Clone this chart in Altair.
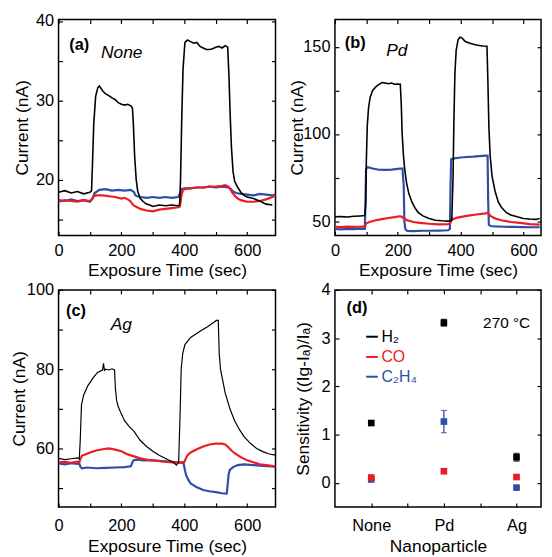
import altair as alt
import pandas as pd

FONT = "Liberation Sans"
COL = {"H2": "#000000", "CO": "#ec1c24", "C2H4": "#2e4ea6"}
WID = {"H2": 1.5, "CO": 2.2, "C2H4": 2.2}

# ---------------- panel (a) : None ----------------
a_h2_t = [0, 20, 40, 60, 80, 100, 105, 108, 112, 118, 125, 130, 140, 150, 160, 170, 180, 190, 200, 210, 220, 230, 235,
          238, 242, 247, 252, 260, 270, 280, 290, 300, 320, 340, 360, 380, 385, 388, 392, 396, 402, 410, 420, 430, 440,
          450, 460, 470, 480, 490, 500, 510, 520, 530, 538, 542, 546, 550, 555, 560, 570, 580, 590, 600, 620, 640, 660, 680]
a_h2_v = [18.4, 18.6, 18.3, 18.5, 18.2, 18.4, 18.6, 22, 27, 30.5, 31.6, 31.8, 31.2, 30.8, 30.6, 30.3, 30.1, 29.7, 29.5,
          29.4, 29.5, 29.3, 29.0, 27, 23, 20, 18.5, 17.6, 17.2, 16.9, 16.8, 16.6, 16.8, 16.7, 16.8, 16.7, 16.8, 20, 28,
          34, 37.3, 37.6, 37.4, 37.2, 37.3, 36.8, 36.6, 36.4, 36.4, 36.5, 36.7, 36.8, 36.6, 36.9, 36.7, 33, 28, 24, 21,
          19.8, 19.0, 18.4, 18.0, 17.8, 17.6, 17.3, 16.9, 16.8]
a_co_t = [0, 20, 40, 60, 80, 100, 108, 112, 120, 140, 160, 180, 200, 210, 220, 228, 235, 240, 250, 260, 280, 300, 320,
          340, 360, 380, 386, 390, 395, 400, 420, 440, 460, 480, 500, 520, 530, 540, 545, 550, 560, 570, 580, 600, 620,
          640, 660, 680, 690]
a_co_v = [17.2, 17.4, 17.3, 17.2, 17.4, 17.3, 17.6, 17.9, 18.0, 18.0, 17.9, 17.8, 17.6, 17.7, 17.5, 17.3, 16.9, 16.7,
          16.5, 16.3, 16.1, 16.0, 16.2, 16.3, 16.4, 16.5, 16.6, 17.8, 18.6, 18.8, 18.9, 19.0, 19.0, 19.1, 19.1, 19.2,
          19.3, 19.1, 18.9, 18.5, 18.0, 17.6, 17.4, 17.2, 17.2, 17.3, 17.5, 17.8, 18.0]
a_c2_t = [0, 20, 40, 60, 80, 100, 108, 115, 130, 150, 170, 190, 210, 230, 240, 245, 250, 260, 280, 300, 320, 340, 360,
          380, 386, 392, 400, 420, 440, 460, 480, 500, 520, 540, 548, 555, 565, 580, 600, 620, 640, 660, 680, 690]
a_c2_v = [17.4, 17.3, 17.5, 17.3, 17.4, 17.2, 17.6, 18.3, 18.7, 18.8, 18.6, 18.7, 18.6, 18.7, 18.4, 18.0, 17.9, 17.8,
          17.7, 17.8, 17.7, 17.8, 17.7, 17.8, 18.2, 18.8, 18.9, 18.9, 19.0, 19.0, 19.1, 19.0, 19.1, 19.0, 18.8, 18.5,
          18.3, 18.2, 18.1, 18.0, 18.2, 18.1, 18.0, 18.1]

# ---------------- panel (b) : Pd ----------------
b_h2_t = [0, 20, 40, 60, 80, 95, 98, 100, 103, 107, 112, 120, 130, 140, 150, 160, 170, 180, 190, 200, 208, 211, 214,
          218, 222, 228, 235, 245, 255, 265, 280, 300, 320, 340, 360, 372, 376, 379, 382, 386, 392, 398, 405, 415, 430,
          450, 470, 484, 487, 490, 494, 500, 510, 520, 530, 545, 560, 580, 600, 620, 640, 652]
b_h2_v = [52.5, 52.6, 52.4, 52.8, 53.0, 53.2, 60, 85, 105, 115, 121, 125, 127, 128.5, 129.5, 129.3, 128.8, 129.2,
          128.5, 128.7, 128.6, 118, 100, 88, 80, 72, 66, 61, 57.5, 55, 53, 51.5, 50.5, 50.2, 50.0, 50.5, 75, 110, 135,
          148, 154, 155.5, 155, 153, 152, 151, 150.5, 150.3, 130, 105, 88, 76, 67, 61, 58, 55, 53.5, 52.5, 51.5, 51.2,
          51.0, 51.5]
b_co_t = [0, 20, 40, 60, 80, 95, 100, 110, 130, 150, 170, 190, 205, 212, 220, 230, 250, 270, 300, 330, 360, 366, 372,
          390, 420, 450, 480, 487, 495, 510, 530, 560, 590, 620, 652]
b_co_v = [46.8, 46.6, 46.9, 46.7, 46.8, 47.0, 48.8, 49.5, 50.5, 51.2, 51.8, 52.3, 52.8, 52.6, 51.5, 50.5, 49.5, 49.0,
          48.5, 48.2, 48.3, 48.5, 51.0, 52.0, 53.0, 53.8, 54.5, 54.8, 53.0, 51.5, 50.5, 49.5, 49.0, 48.3, 48.0]
b_c2_t = [0, 20, 40, 60, 80, 95, 97, 99, 105, 120, 140, 160, 180, 200, 215, 219, 221, 224, 230, 250, 280, 300, 330,
          360, 366, 368, 370, 380, 400, 420, 440, 460, 480, 486, 488, 490, 495, 510, 540, 570, 600, 630, 652]
b_c2_v = [45.5, 45.3, 45.6, 45.4, 45.7, 45.6, 60, 80, 81, 80.2, 79.5, 79.4, 79.6, 80, 80.2, 70, 50, 45.5, 44.4, 44.3,
          44.5, 44.5, 44.6, 44.8, 45.5, 70, 85.5, 86, 86.5, 86.8, 87, 87.3, 87.6, 87.5, 60, 48, 47.2, 47, 46.8, 46.7,
          46.6, 46.5, 46.5]

# ---------------- panel (c) : Ag ----------------
c_h2_t = [0, 20, 40, 60, 66, 69, 73, 80, 93, 110, 124, 140, 143, 146, 150, 160, 170, 178, 181, 185, 190, 198, 210, 225,
          240, 260, 280, 300, 320, 345, 365, 375, 382, 387, 390, 395, 402, 420, 450, 475, 492, 502, 508, 511, 515, 520,
          530, 545, 560, 575, 590, 610, 630, 650, 670, 690]
c_h2_v = [57.5, 57.2, 57.4, 57.6, 57.4, 62, 71, 73.5, 75.8, 77.8, 79.2, 79.8, 81.5, 79.7, 80, 79.8, 80.1, 79.8, 75, 72,
          70.5, 69, 67, 65.5, 64.3, 62, 60.5, 59.3, 58.3, 57.3, 56.5, 55.8, 56.5, 70, 80, 84, 86.2, 88, 89.6, 90.8, 91.7,
          92.3, 92.3, 84, 80, 78, 74, 70, 67, 64.8, 63, 61.3, 60, 59.2, 58.6, 58.3]
c_co_t = [0, 20, 40, 60, 66, 70, 75, 85, 100, 120, 140, 160, 180, 200, 220, 240, 260, 280, 300, 330, 360, 390, 400,
          405, 410, 420, 440, 460, 480, 500, 520, 530, 540, 550, 560, 580, 600, 620, 640, 660, 690]
c_co_v = [56.5, 56.6, 56.4, 56.7, 56.5, 57.5, 58.2, 58.5, 59, 59.5, 59.8, 60, 59.7, 59.3, 58.5, 58, 57.5, 57.2, 57,
          56.7, 56.5, 56.5, 56.6, 57.5, 58.3, 59, 59.8, 60.5, 61, 61.2, 61.2, 61, 60.3, 59.5, 58.8, 57.8, 57, 56.5, 56,
          55.8, 55.5]
c_c2_t = [0, 20, 40, 60, 66, 70, 75, 90, 120, 150, 180, 210, 230, 235, 240, 250, 270, 300, 330, 360, 390, 398, 402,
          406, 412, 420, 440, 460, 480, 500, 520, 535, 538, 541, 545, 555, 570, 590, 620, 650, 690]
c_c2_v = [56.2, 56.0, 56.3, 56.1, 56.2, 55.3, 55.0, 55.2, 55.0, 55.1, 55.2, 55.3, 55.5, 56.5, 57.1, 57.2, 57.0, 57.0,
          56.8, 56.6, 56.4, 56.2, 54.5, 53.2, 52.2, 51.2, 50.2, 49.5, 49.2, 49.0, 48.7, 48.6, 51, 53.5, 54.6, 55.3, 55.8,
          56.0, 55.8, 55.6, 55.4]

# ---------------- panel (d) : sensitivity ----------------
nanoparticles = ["None", "Pd", "Ag"]
sens_h2 = [1.24, 3.32, 0.53]
err_h2 = [0.03, 0.07, 0.08]
sens_co = [0.11, 0.24, 0.12]
err_co = [0.02, 0.02, 0.02]
sens_c2 = [0.07, 1.27, -0.10]
err_c2 = [0.02, 0.23, 0.02]
legend_labels = ["H₂", "CO", "C₂H₄"]
legend_keys = ["H2", "CO", "C2H4"]

TIME_TITLE = "Exposure Time (sec)"
CUR_TITLE = "Current (nA)"
LBL = 16.5
TTL = 17.5
W_LEFT = 219
W_RIGHT = 208


def axis_common(**kw):
    base = dict(offset=-4, tickSize=4, domain=False, grid=False, labelFontSize=LBL, titleFontSize=TTL,
                labelFont=FONT, titleFont=FONT, labelColor="black", titleColor="black",
                titleFontWeight="normal", labelFontWeight="normal", tickColor="black", tickWidth=1.2,
                labelFlush=False, labelOverlap=False)
    base.update(kw)
    return alt.Axis(**base)


def mirror_axis(orient, vals):
    return alt.Axis(orient=orient, values=vals, labels=False, title=None, offset=-4, tickSize=4,
                    domain=False, grid=False, tickColor="black", tickWidth=1.2)


def time_panel(series, xdom, ydom, yvals, ylab_expr, ytp, xlp, xtp, w, h, tag, tag_pos, name, name_pos, hw):
    xs = alt.Scale(domain=xdom, nice=False, zero=False)
    ys = alt.Scale(domain=ydom, nice=False, zero=False)
    xvals = [0, 100, 200, 300, 400, 500, 600]
    layers = []
    for i, (gas, t, v) in enumerate(series):
        df = pd.DataFrame({"t": t, "v": v})
        if i == 0:
            xe = alt.X("t:Q", scale=xs, axis=axis_common(orient="bottom", values=xvals,
                       labelExpr="datum.value % 200 === 0 ? datum.label : ''", title=TIME_TITLE,
                       labelPadding=xlp, titlePadding=xtp))
            ye = alt.Y("v:Q", scale=ys, axis=axis_common(orient="left", values=yvals, labelExpr=ylab_expr,
                       title=CUR_TITLE, labelPadding=5, titlePadding=ytp))
        else:
            xe = alt.X("t:Q", scale=xs, axis=None)
            ye = alt.Y("v:Q", scale=ys, axis=None)
        sw = hw if gas == "H2" else WID[gas]
        layers.append(alt.Chart(df).mark_line(color=COL[gas], strokeWidth=sw, clip=True)
                      .encode(x=xe, y=ye))
    df0 = pd.DataFrame({"t": series[0][1], "v": series[0][2]})
    layers.append(alt.Chart(df0).mark_point(opacity=0).encode(
        x=alt.X("t:Q", scale=xs, axis=mirror_axis("top", xvals)),
        y=alt.Y("v:Q", scale=ys, axis=mirror_axis("right", yvals))))
    tdf = pd.DataFrame({"t": [tag_pos[0]], "v": [tag_pos[1]], "s": [tag]})
    layers.append(alt.Chart(tdf).mark_text(align="left", baseline="middle", font=FONT, fontSize=16.5,
                                           fontWeight="bold", color="black").encode(
        x=alt.X("t:Q", scale=xs, axis=None), y=alt.Y("v:Q", scale=ys, axis=None), text="s:N"))
    ndf = pd.DataFrame({"t": [name_pos[0]], "v": [name_pos[1]], "s": [name]})
    layers.append(alt.Chart(ndf).mark_text(align="left", baseline="middle", font=FONT, fontSize=17.5,
                                           fontStyle="italic", color="black").encode(
        x=alt.X("t:Q", scale=xs, axis=None), y=alt.Y("v:Q", scale=ys, axis=None), text="s:N"))
    return alt.layer(*layers).resolve_axis(x="independent", y="independent").properties(width=w, height=h)


pa = time_panel([("C2H4", a_c2_t, a_c2_v), ("CO", a_co_t, a_co_v), ("H2", a_h2_t, a_h2_v)],
                [0, 690], [12.95, 40.2], [15, 20, 25, 30, 35, 40],
                "datum.value % 10 === 0 ? datum.label : ''", 4, 7, 2.5, W_LEFT, 218,
                "(a)", (34, 37.0), "None", (135, 36.0), 1.6)
pb = time_panel([("C2H4", b_c2_t, b_c2_v), ("CO", b_co_t, b_co_v), ("H2", b_h2_t, b_h2_v)],
                [0, W_RIGHT / 0.317], [41.8, 165.7], [50, 75, 100, 125, 150],
                "datum.value % 50 === 0 ? datum.label : ''", -4, 7, 2.5, W_RIGHT, 218,
                "(b)", (31.5, 152.0), "Pd", (163, 147.7), 1.6)
pc = time_panel([("C2H4", c_c2_t, c_c2_v), ("CO", c_co_t, c_co_v), ("H2", c_h2_t, c_h2_v)],
                [0, 690], [45.25, 100], [50, 60, 70, 80, 90, 100],
                "datum.value % 20 === 0 ? datum.label : ''", -2, 11, 3.5, W_LEFT, 219,
                "(c)", (24, 94.6), "Ag", (166, 91.25), 1.2)

# ---- panel d ----
xs_d = alt.Scale(domain=[0.5, 0.5 + W_RIGHT / 73.3], nice=False, zero=False)
ys_d = alt.Scale(domain=[-0.5, 4.0], nice=False, zero=False)
xvals_d = [1, 1.5, 2, 2.5, 3]
xlab_d = " : ".join([f"datum.value === {i + 1} ? '{n}'" for i, n in enumerate(nanoparticles)]) + " : ''"

rows = []
for gas, vals, errs in [("C2H4", sens_c2, err_c2), ("CO", sens_co, err_co), ("H2", sens_h2, err_h2)]:
    for i, n in enumerate(nanoparticles):
        rows.append({"x": i + 1, "v": vals[i], "lo": vals[i] - errs[i], "hi": vals[i] + errs[i],
                     "gas": gas, "c": COL[gas]})
ddf = pd.DataFrame(rows)

xe_none = alt.X("x:Q", scale=xs_d, axis=None)
ye_none = alt.Y("v:Q", scale=ys_d, axis=None)

d_err = alt.Chart(ddf).mark_rule(strokeWidth=1.3).encode(
    x=xe_none, y=alt.Y("lo:Q", scale=ys_d, axis=None), y2="hi:Q", color=alt.Color("c:N", scale=None))
d_cap_lo = alt.Chart(ddf).mark_tick(orient="horizontal", size=6, thickness=1.3).encode(
    x=xe_none, y=alt.Y("lo:Q", scale=ys_d, axis=None), color=alt.Color("c:N", scale=None))
d_cap_hi = alt.Chart(ddf).mark_tick(orient="horizontal", size=6, thickness=1.3).encode(
    x=xe_none, y=alt.Y("hi:Q", scale=ys_d, axis=None), color=alt.Color("c:N", scale=None))
d_mirror = alt.Chart(ddf).mark_point(opacity=0).encode(
    x=alt.X("x:Q", scale=xs_d, axis=mirror_axis("top", xvals_d)),
    y=alt.Y("v:Q", scale=ys_d, axis=mirror_axis("right", [0, 1, 2, 3, 4])))

leg_df = pd.DataFrame({"x": [0.93] * 3, "x2": [1.09] * 3, "v": [3.03, 2.61, 2.20],
                       "tx": [1.14] * 3, "s": legend_labels, "c": [COL[k] for k in legend_keys]})
d_leg_line = alt.Chart(leg_df).mark_rule(strokeWidth=2).encode(
    x=xe_none, x2="x2:Q", y=ye_none, color=alt.Color("c:N", scale=None))
d_leg_text = alt.Chart(leg_df).mark_text(align="left", baseline="middle", font=FONT, fontSize=16).encode(
    x=alt.X("tx:Q", scale=xs_d, axis=None), y=ye_none, text="s:N", color=alt.Color("c:N", scale=None))
d_tag = alt.Chart(pd.DataFrame({"x": [0.66], "v": [3.62], "s": ["(d)"]})).mark_text(
    align="left", baseline="middle", font=FONT, fontSize=16.5, fontWeight="bold", color="black").encode(
    x=xe_none, y=ye_none, text="s:N")
d_temp = alt.Chart(pd.DataFrame({"x": [2.54], "v": [3.31], "s": ["270 °C"]})).mark_text(
    align="left", baseline="middle", font=FONT, fontSize=15.5, color="black").encode(
    x=xe_none, y=ye_none, text="s:N")
d_points = alt.Chart(ddf).mark_square(size=45, opacity=1, filled=True).encode(
    x=alt.X("x:Q", scale=xs_d, axis=axis_common(orient="bottom", values=xvals_d, labelExpr=xlab_d,
            title="Nanoparticle", labelPadding=11, titlePadding=3.5)),
    y=alt.Y("v:Q", scale=ys_d, axis=axis_common(orient="left", values=[0, 1, 2, 3, 4],
            title="Sensitivity ((Ig-Iₐ)/Iₐ)", labelPadding=5, titlePadding=9)),
    color=alt.Color("c:N", scale=None))

pd_ = alt.layer(d_err, d_cap_lo, d_cap_hi, d_mirror, d_leg_line, d_leg_text, d_tag, d_temp, d_points
                ).resolve_axis(x="independent", y="independent").properties(width=W_RIGHT, height=219)

chart = alt.concat(pa, pb, pc, pd_, columns=2, spacing={"row": 55, "column": 60}, bounds="flush").properties(
    padding={"left": 1, "top": 1, "right": 0, "bottom": 0}
).configure(font=FONT).configure_axis(titleFontWeight="normal", labelFontWeight="normal"
).configure_view(stroke="black", strokeWidth=1.5)

chart.save("out.html", embed_options={"renderer": "svg", "actions": False})
